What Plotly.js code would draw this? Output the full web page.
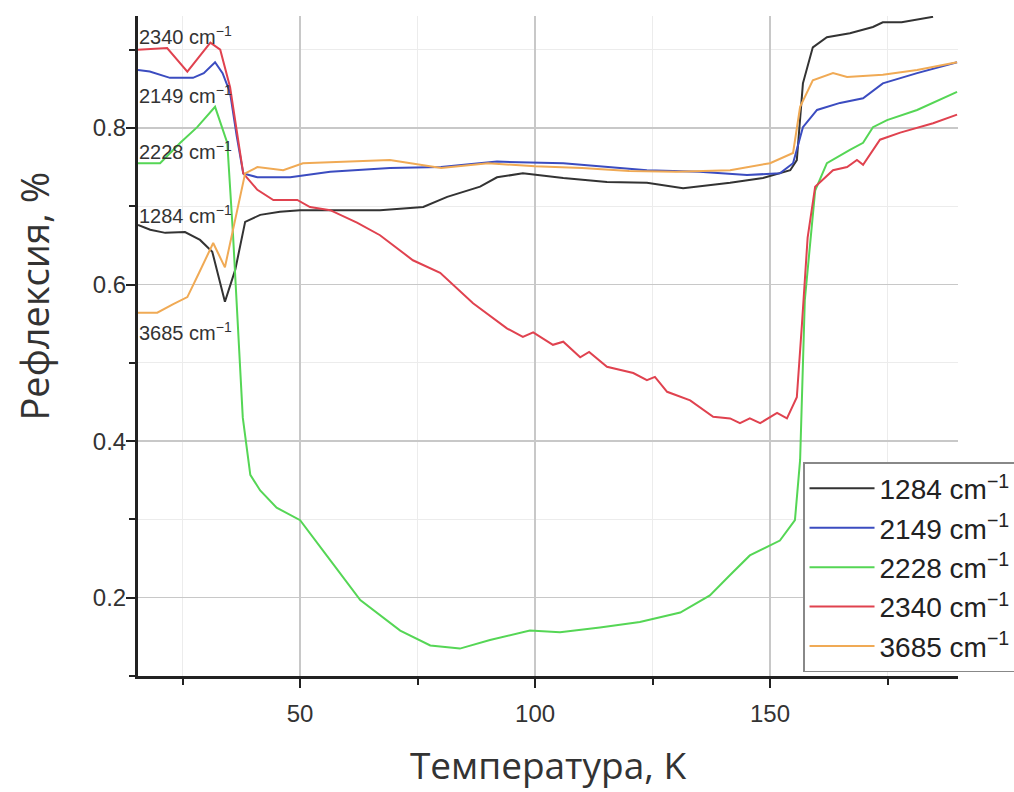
<!DOCTYPE html>
<html>
<head>
<meta charset="utf-8">
<script src="https://cdn.plot.ly/plotly-3.0.1.min.js"></script>
<style>html,body{margin:0;padding:0;background:#fff;}#chart{width:1014px;height:792px;}</style>
</head>
<body>
<div id="chart"></div>
<script>
// Series names
const seriesNames = ["1284 cm<sup>−1</sup>", "2149 cm<sup>−1</sup>", "2228 cm<sup>−1</sup>", "2340 cm<sup>−1</sup>", "3685 cm<sup>−1</sup>"];

// 1284 cm-1 (black)
const x1284 = [15.5, 18.1, 21.3, 25.5, 28.7, 31.3, 34.0, 36.2, 38.3, 41.5, 45.7, 50, 58.5, 67, 72, 76.2, 81.3, 88.3, 91.9, 97.4, 106, 115.3, 123.8, 131.5, 141.5, 148.5, 154.3, 155.7, 157, 159.1, 162.1, 167, 171.9, 174, 178, 184.7];
const y1284 = [0.676, 0.670, 0.666, 0.667, 0.657, 0.642, 0.578, 0.619, 0.680, 0.689, 0.693, 0.695, 0.695, 0.695, 0.697, 0.699, 0.712, 0.725, 0.737, 0.742, 0.736, 0.731, 0.730, 0.723, 0.730, 0.736, 0.746, 0.759, 0.857, 0.903, 0.916, 0.921, 0.929, 0.935, 0.935, 0.942];

// 2149 cm-1 (blue)
const x2149 = [15.5, 18, 22.3, 27.2, 29.5, 31.9, 33.5, 35.1, 36.5, 37.9, 40.9, 47.9, 56.4, 69.1, 80, 91.9, 106, 115, 123.8, 135, 145.1, 152.1, 154.9, 157, 160, 164.9, 169.8, 174, 181.3, 189.8];
const y2149 = [0.874, 0.872, 0.864, 0.864, 0.870, 0.884, 0.870, 0.845, 0.790, 0.742, 0.737, 0.737, 0.744, 0.749, 0.750, 0.757, 0.755, 0.750, 0.746, 0.744, 0.740, 0.742, 0.755, 0.801, 0.823, 0.832, 0.838, 0.857, 0.870, 0.884];

// 2228 cm-1 (green)
const x2228 = [15.5, 20.2, 24.5, 28.1, 31.9, 34.5, 35.7, 36.8, 37.8, 39.4, 41.5, 45, 50, 56.4, 62.8, 71.3, 77.7, 84, 90.4, 98.9, 105.3, 113.8, 122.3, 130.9, 137.2, 141.5, 145.7, 152.1, 155.3, 156.4, 157.4, 159.6, 162.1, 167, 169.8, 171.9, 174.9, 181.3, 189.8];
const y2228 = [0.755, 0.755, 0.781, 0.801, 0.827, 0.781, 0.666, 0.538, 0.430, 0.357, 0.337, 0.315, 0.299, 0.248, 0.197, 0.158, 0.139, 0.135, 0.146, 0.158, 0.156, 0.162, 0.169, 0.181, 0.203, 0.229, 0.254, 0.273, 0.299, 0.376, 0.580, 0.720, 0.755, 0.772, 0.781, 0.801, 0.810, 0.823, 0.846];

// 2340 cm-1 (red)
const x2340 = [15.5, 21.7, 26, 30.9, 33, 35.1, 37.9, 40.9, 44.3, 49.4, 52.1, 56.4, 62.1, 67, 74, 79.8, 86.8, 94, 97.4, 99.6, 103.8, 106, 109.6, 111.5, 115.3, 120.9, 123.8, 125.5, 128.1, 133, 137.9, 141.5, 143.6, 145.7, 147.9, 151.5, 153.6, 155.7, 156.8, 158, 159.6, 163.4, 166.4, 168.5, 169.8, 173.4, 177.7, 184.7, 189.8];
const y2340 = [0.900, 0.902, 0.872, 0.909, 0.900, 0.852, 0.742, 0.721, 0.708, 0.708, 0.699, 0.695, 0.679, 0.663, 0.631, 0.615, 0.576, 0.544, 0.533, 0.539, 0.523, 0.527, 0.507, 0.514, 0.495, 0.487, 0.478, 0.482, 0.463, 0.452, 0.431, 0.429, 0.423, 0.429, 0.423, 0.436, 0.429, 0.456, 0.550, 0.660, 0.725, 0.746, 0.750, 0.759, 0.753, 0.785, 0.794, 0.806, 0.817];

// 3685 cm-1 (orange)
const x3685 = [15.5, 19.6, 23, 26, 28.5, 31.5, 34.0, 35.7, 38.3, 40.9, 46.4, 50.6, 60, 69.1, 80, 90, 100, 110, 120, 130, 141.5, 150, 154.9, 156.4, 159.1, 163.4, 166.4, 174, 181.3, 189.8];
const y3685 = [0.564, 0.564, 0.575, 0.584, 0.615, 0.653, 0.622, 0.670, 0.742, 0.750, 0.746, 0.755, 0.757, 0.759, 0.749, 0.755, 0.751, 0.749, 0.745, 0.744, 0.746, 0.755, 0.768, 0.827, 0.861, 0.870, 0.865, 0.868, 0.874, 0.884];

// In-plot labels
const labelTexts = ["2340 cm<sup>−1</sup>", "2149 cm<sup>−1</sup>", "2228 cm<sup>−1</sup>", "1284 cm<sup>−1</sup>", "3685 cm<sup>−1</sup>"];
const labelY = [0.918, 0.843, 0.771, 0.690, 0.540];

const xTitle = "Температура, K";
const yTitle = "Рефлексия, %";

const colors = ["#333333", "#3b4cc0", "#55d655", "#e0424f", "#f0aa55"];
const xs = [x1284, x2149, x2228, x2340, x3685];
const ys = [y1284, y2149, y2228, y2340, y3685];

const traces = xs.map((x, i) => ({
  x: x, y: ys[i], type: "scatter", mode: "lines", name: seriesNames[i],
  line: {color: colors[i], width: 2}
}));

const annotations = labelTexts.map((t, i) => ({
  x: 15.6, y: labelY[i], xref: "x", yref: "y", text: t, showarrow: false,
  xanchor: "left", yanchor: "middle", xshift: -1,
  font: {family: "Liberation Sans, Arial, sans-serif", size: 20, color: "#333"}
}));
annotations.push({
  x: -0.128, y: 0.575, xref: "paper", yref: "paper", text: yTitle, showarrow: false,
  textangle: -90, xanchor: "center", yanchor: "middle",
  font: {family: "Open Sans, sans-serif", size: 38, color: "#333"}
});

const layout = {
  width: 1014, height: 792,
  margin: {l: 138, r: 56, t: 16, b: 116, autoexpand: false},
  paper_bgcolor: "#fff", plot_bgcolor: "#fff",
  showlegend: true,
  legend: {
    x: 0.811, y: 0.324, xanchor: "left", yanchor: "top",
    bgcolor: "#fff", bordercolor: "#888", borderwidth: 1.5,
    font: {family: "Liberation Sans, Arial, sans-serif", size: 28, color: "#222"},
    itemwidth: 65, tracegroupgap: 0
  },
  xaxis: {
    range: [15.5, 190], tick0: 0, dtick: 50,
    showline: true, linecolor: "#222", linewidth: 3,
    ticks: "outside", ticklen: 9, tickwidth: 2, tickcolor: "#222",
    ticklabelstandoff: 5,
    showgrid: true, gridcolor: "#c8c8c8", gridwidth: 1.5, zeroline: false,
    minor: {dtick: 25, showgrid: true, gridcolor: "#ececec", gridwidth: 1, ticks: "outside", ticklen: 6, tickwidth: 2, tickcolor: "#222"},
    tickfont: {family: "Liberation Sans, Arial, sans-serif", size: 24, color: "#333"},
    title: {text: xTitle, standoff: 28, font: {family: "Open Sans, sans-serif", size: 37, color: "#333"}}
  },
  yaxis: {
    range: [0.1, 0.943], tick0: 0, dtick: 0.2, tickformat: ".1f",
    showline: true, linecolor: "#222", linewidth: 3,
    ticks: "outside", ticklen: 9, tickwidth: 2, tickcolor: "#222",
    ticklabelstandoff: -5,
    showgrid: true, gridcolor: "#c8c8c8", gridwidth: 1.5, zeroline: false,
    minor: {dtick: 0.1, showgrid: true, gridcolor: "#ececec", gridwidth: 1, ticks: "outside", ticklen: 6, tickwidth: 2, tickcolor: "#222"},
    tickfont: {family: "Liberation Sans, Arial, sans-serif", size: 24, color: "#333"}
  },
  annotations: annotations
};

Plotly.newPlot("chart", traces, layout, {displayModeBar: false, staticPlot: true});
</script>
</body>
</html>
